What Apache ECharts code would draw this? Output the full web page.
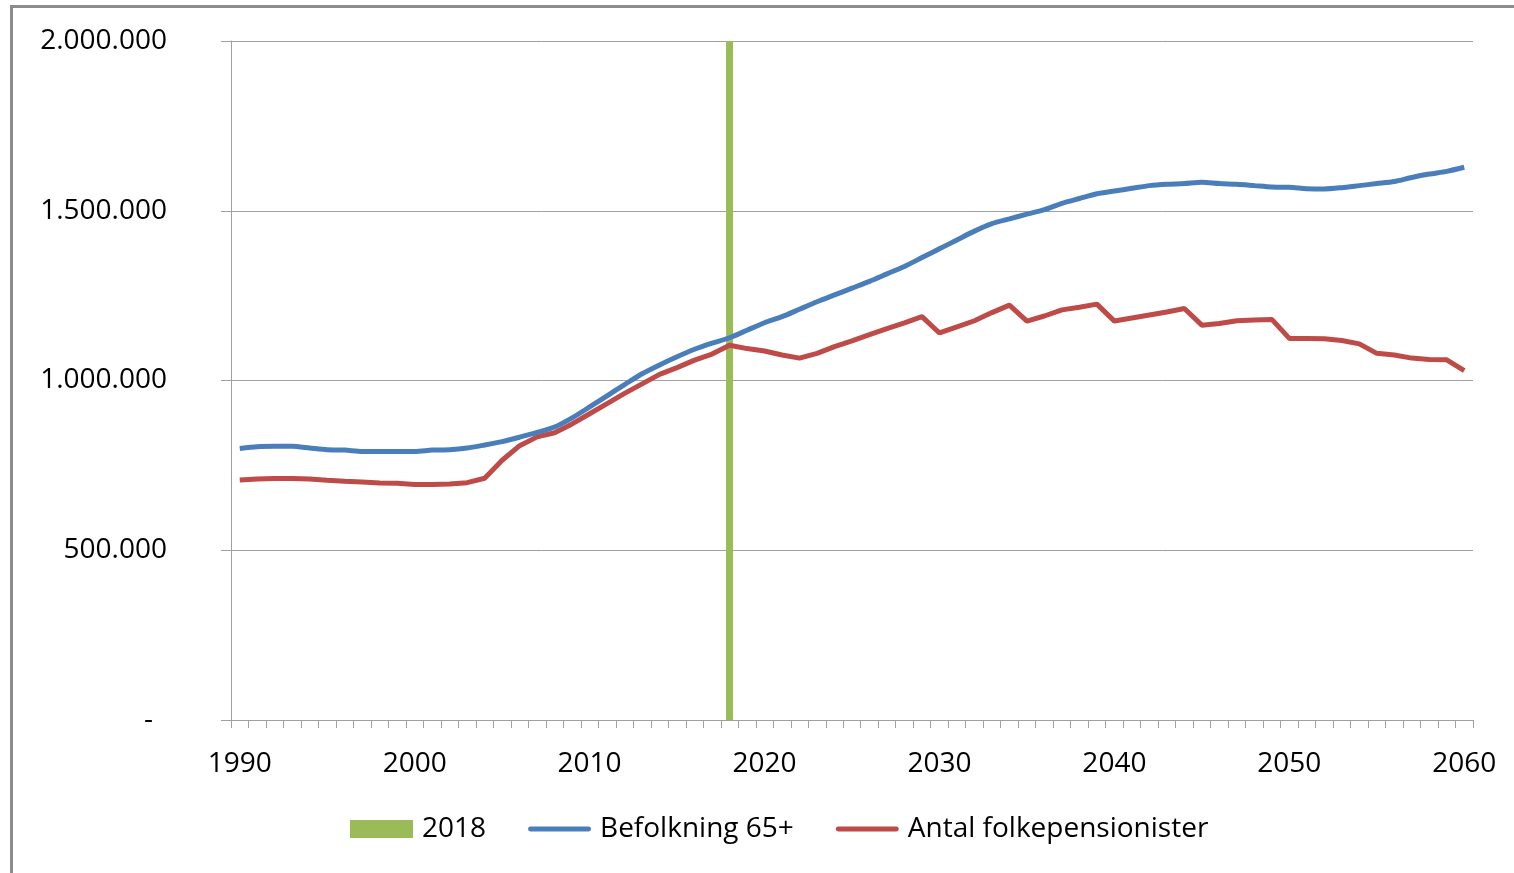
<!DOCTYPE html>
<html>
<head>
<meta charset="utf-8">
<script src="https://cdn.jsdelivr.net/npm/echarts@6/dist/echarts.min.js"></script>
<style>
  html, body { margin: 0; padding: 0; background: #fff; }
  .frame {
    position: absolute; left: 10px; top: 5px; width: 1510px; height: 880px;
    border-left: 3px solid #8c8c8c; border-top: 3px solid #8c8c8c;
    box-sizing: border-box;
  }
  #chart { position: absolute; left: 0; top: 0; width: 1514px; height: 873px; }
</style>
</head>
<body>
<div class="frame"></div>
<div id="chart"></div>
<script>
// years on the x axis
const years = []
for (let y = 1990; y <= 2060; y++) years.push(String(y))

// Befolkning 65+ (thousands)
const befolkning65 = [
  800, 805, 806, 806, 801, 796, 795, 791, 791, 791,
  791, 795, 796, 801, 810, 820, 833, 847, 863, 890,
  922, 955, 988, 1020, 1046, 1070, 1092, 1110, 1126, 1148,
  1170, 1188, 1210, 1232, 1252, 1272, 1292, 1314, 1336, 1362,
  1388, 1414, 1440, 1462, 1476, 1490, 1503, 1522, 1536, 1550,
  1558, 1566, 1574, 1578, 1580, 1584, 1580, 1578, 1574, 1570,
  1569, 1565, 1564, 1568, 1574, 1580, 1586, 1598, 1608, 1616,
  1628
]

// Antal folkepensionister (thousands)
const folkepensionister = [
  707, 710, 711, 711, 710, 706, 703, 701, 698, 697,
  694, 694, 695, 699, 712, 765, 808, 834, 846, 872,
  902, 932, 962, 990, 1018, 1038, 1060, 1078, 1104, 1094,
  1087, 1075, 1066, 1080, 1100, 1117, 1135, 1153, 1170, 1188,
  1140, 1158, 1176, 1200, 1222, 1175, 1190, 1208, 1216, 1225,
  1175, 1184, 1193, 1202, 1212, 1163, 1168, 1176, 1178, 1180,
  1124, 1124, 1123, 1118, 1108, 1080, 1075, 1066, 1062, 1061,
  1029
]

const markerYear = '2018'
const markerValue = 2000000

const FONT = 'Open Sans'
const BLUE = '#4a7ebb'
const RED = '#be4b48'
const GREEN = '#9bbb59'
// thick line with round ends for the legend
const LINE_ICON = 'path://M2.5,0 h60 a2.5,2.5 0 0 1 0,5 h-60 a2.5,2.5 0 0 1 0,-5 z'

function fmt(v) {
  if (v === 0) return '{z|-}'
  return String(v).replace(/\B(?=(\d{3})+(?!\d))/g, '.')
}

const chart = echarts.init(document.getElementById('chart'))
chart.setOption({
  animation: false,
  textStyle: { fontFamily: FONT },
  grid: { left: 231, right: 41, top: 41, bottom: 153 },
  legend: {
    left: 345,
    top: 810,
    itemWidth: 63,
    itemHeight: 18,
    itemGap: 42,
    textStyle: { fontSize: 28, color: '#000', padding: [0, 0, 0, 4] },
    data: [
      { name: '2018', icon: 'rect' },
      { name: 'Befolkning 65+', icon: LINE_ICON, itemStyle: { color: BLUE } },
      { name: 'Antal folkepensionister', icon: LINE_ICON, itemStyle: { color: RED } },
    ],
  },
  xAxis: {
    type: 'category',
    data: years,
    boundaryGap: true,
    axisLine: { lineStyle: { color: '#a0a0a0', width: 1 } },
    axisTick: { show: true, interval: 0, length: 8, lineStyle: { color: '#a0a0a0' } },
    axisLabel: {
      interval: (i, v) => Number(v) % 10 === 0,
      color: '#000',
      fontSize: 28,
      margin: 30,
    },
    splitLine: { show: false },
  },
  yAxis: {
    type: 'value',
    min: 0,
    max: 2000000,
    interval: 500000,
    axisLine: { show: true, lineStyle: { color: '#a0a0a0', width: 1 } },
    axisTick: { show: true, length: 10, lineStyle: { color: '#a0a0a0' } },
    axisLabel: {
      color: '#000',
      fontSize: 28,
      margin: 64,
      formatter: fmt,
      rich: { z: { fontSize: 28, color: '#000', padding: [0, 14, 0, 0] } },
    },
    splitLine: { show: true, lineStyle: { color: '#a0a0a0', width: 1 } },
  },
  series: [
    {
      name: '2018',
      type: 'bar',
      barWidth: 7,
      itemStyle: { color: GREEN },
      data: years.map(y => (y === markerYear ? markerValue : null)),
      z: 1,
    },
    {
      name: 'Befolkning 65+',
      type: 'line',
      symbol: 'none',
      smooth: 0.25,
      lineStyle: { width: 5, color: BLUE },
      itemStyle: { color: BLUE },
      data: befolkning65.map(v => v * 1000),
      z: 3,
    },
    {
      name: 'Antal folkepensionister',
      type: 'line',
      symbol: 'none',
      smooth: false,
      lineStyle: { width: 5, color: RED },
      itemStyle: { color: RED },
      data: folkepensionister.map(v => v * 1000),
      z: 2,
    },
  ],
})
</script>
</body>
</html>
